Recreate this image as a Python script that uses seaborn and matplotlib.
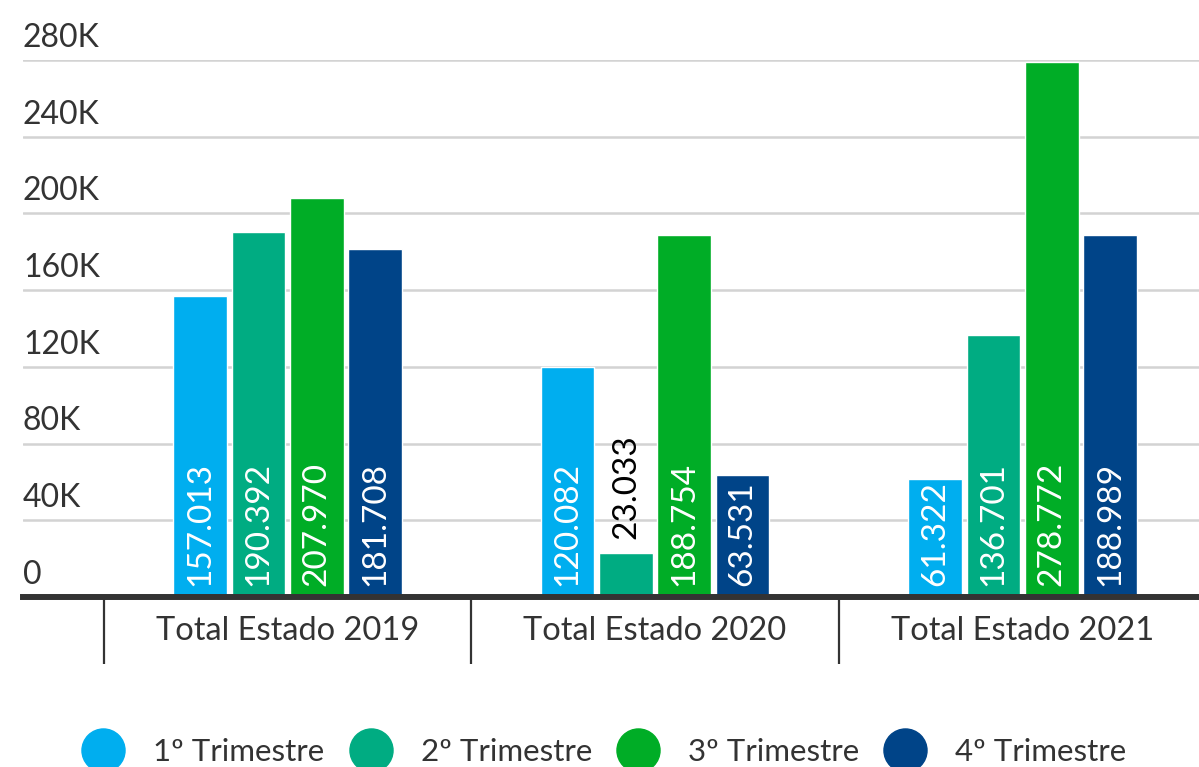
import pandas as pd
import matplotlib.pyplot as plt
from matplotlib.lines import Line2D
import seaborn as sns

# ==============================================================================
# DATA
# ==============================================================================
categorias = ['Total Estado 2019', 'Total Estado 2020', 'Total Estado 2021']
trimestres = ['1º Trimestre', '2º Trimestre', '3º Trimestre', '4º Trimestre']
valores = {
    '1º Trimestre': [157013, 120082, 61322],
    '2º Trimestre': [190392, 23033, 136701],
    '3º Trimestre': [207970, 188754, 278772],
    '4º Trimestre': [181708, 63531, 188989],
}
y_ticks = [0, 40000, 80000, 120000, 160000, 200000, 240000, 280000]
y_tick_labels = ['0', '40K', '80K', '120K', '160K', '200K', '240K', '280K']
cores = ['#00AEEF', '#00AC82', '#00AD26', '#004488']

rows = []
for t in trimestres:
    for c, v in zip(categorias, valores[t]):
        rows.append({'categoria': c, 'trimestre': t, 'valor': v})
df = pd.DataFrame(rows)

def fmt(v):
    # thousands with dot separator
    return f"{v:,}".replace(',', '.')

# ==============================================================================
# PLOT
# ==============================================================================
sns.set_style('white')
plt.rcParams['font.family'] = ['Lato', 'DejaVu Sans']
TXT = '#333333'

fig = plt.figure(figsize=(11.99, 7.67), dpi=100)
ax = fig.add_axes([23 / 1199, 1 - 597 / 767, 1 - 23 / 1199, (597 - 60) / 767])

sns.barplot(data=df, x='categoria', y='valor', hue='trimestre', hue_order=trimestres,
            order=categorias, palette=cores, width=0.635, gap=0.08, saturation=1,
            legend=False, ax=ax, zorder=3)

ax.set_ylim(0, 280000)
ax.set_xlim(-0.72, 2.48)
ax.set_xlabel('')
ax.set_ylabel('')

# gridlines + labels sitting above them
ax.set_yticks(y_ticks)
ax.set_yticklabels([])
ax.tick_params(axis='y', length=0)
ax.yaxis.grid(True, color='#d3d3d3', linewidth=1.8, zorder=0)
ax.set_axisbelow(True)
for yv, lab in zip(y_ticks, y_tick_labels):
    ax.annotate(lab, xy=(0, yv), xycoords=('axes fraction', 'data'),
                xytext=(0, 9.5), textcoords='offset points',
                ha='left', va='baseline', fontsize=23, color=TXT, annotation_clip=False)

# category labels and separators
ax.set_xticks([0, 1, 2])
ax.set_xticklabels(categorias, fontsize=23.5, color=TXT)
ax.set_xticks([-0.5, 0.5, 1.5], minor=True)
ax.tick_params(axis='x', which='major', bottom=True, length=0, pad=14)
ax.tick_params(axis='x', which='minor', bottom=True, length=48, width=1.6,
               color=TXT, direction='out')

for s in ['top', 'right', 'left']:
    ax.spines[s].set_visible(False)
ax.spines['bottom'].set_linewidth(4.3)
ax.spines['bottom'].set_color(TXT)
ax.spines['bottom'].set_zorder(5)

# value labels
for cont in ax.containers:
    for bar in cont:
        h = bar.get_height()
        xc = bar.get_x() + bar.get_width() / 2
        if h > 55000:
            ax.annotate(fmt(int(round(h))), xy=(xc, 0), xytext=(0, 8),
                        textcoords='offset points', rotation=90, ha='center', va='bottom',
                        fontsize=24, color='white', zorder=6)
        else:
            ax.annotate(fmt(int(round(h))), xy=(xc, h), xytext=(0, 10),
                        textcoords='offset points', rotation=90, ha='center', va='bottom',
                        fontsize=24, color='black', zorder=6)

# legend
handles = [Line2D([0], [0], marker='o', linestyle='', markersize=31,
                  markerfacecolor=c, markeredgecolor=c) for c in cores]
fig.legend(handles, trimestres, loc='center', bbox_to_anchor=(0.505, 1 - 752 / 767),
           ncol=4, frameon=False, fontsize=22.5, labelcolor=TXT,
           handletextpad=1.0, columnspacing=0.87, handlelength=1.2)

fig.savefig('out.png', dpi=100)
